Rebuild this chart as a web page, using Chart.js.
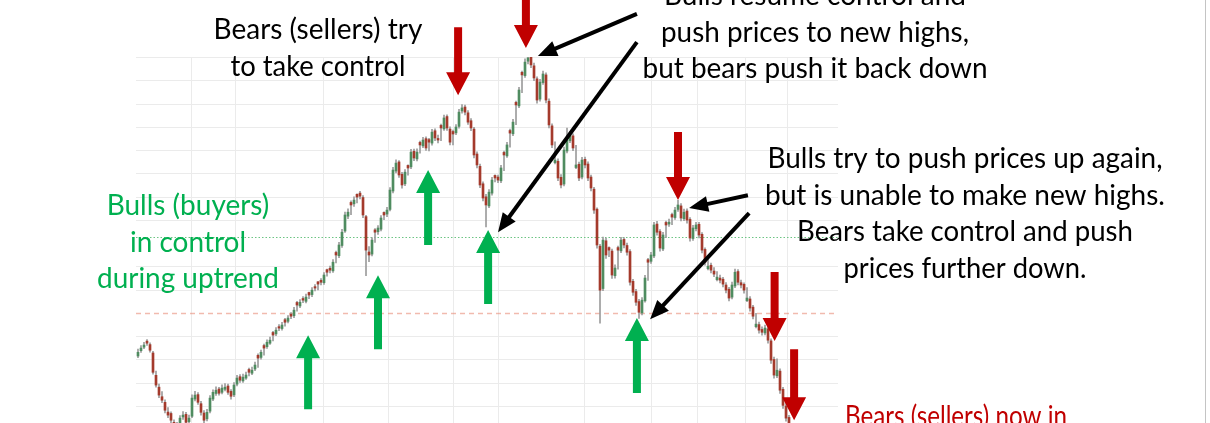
<!DOCTYPE html>
<html><head><meta charset="utf-8">
<script src="https://cdn.jsdelivr.net/npm/chart.js@4/dist/chart.umd.min.js"></script>
<style>
html,body{margin:0;padding:0;background:#fff;overflow:hidden;width:1210px;height:423px;}
#wrap{position:absolute;left:0;top:0;width:1210px;height:480px;}
canvas{display:block;}
</style></head><body>
<div id="wrap"><canvas id="c" width="1210" height="480"></canvas></div>
<script>
// ---- data (daily OHLC) ----
const opens = [71.5,73.8,75.3,77.9,76.4,72.8,63.2,58.1,54.0,51.6,47.4,46.8,43.0,40.2,42.5,45.3,46.4,43.3,45.6,53.0,
54.9,51.0,47.0,44.5,47.8,53.0,55.4,57.3,55.9,57.2,58.6,56.3,54.8,59.4,62.6,60.8,62.0,65.7,64.1,65.9,
71.8,70.9,76.0,75.5,77.0,81.6,81.0,84.1,83.3,87.1,86.4,89.5,88.8,94.5,93.0,96.2,95.0,98.8,97.9,101.3,
103.4,104.0,103.0,108.6,109.2,108.1,116.0,114.6,119.0,125.2,131.6,137.5,136.9,141.0,141.5,139.6,131.4,116.2,115.3,125.7,
124.9,126.0,133.2,132.5,134.5,142.4,151.0,154.9,149.6,145.5,153.4,152.8,159.5,156.2,163.3,161.8,164.9,164.5,163.0,168.3,
165.0,170.6,169.1,174.4,169.0,168.0,167.4,170.2,176.8,178.5,176.0,172.6,169.0,158.3,153.0,145.5,139.9,136.0,141.5,149.1,
148.4,146.8,159.0,157.5,168.4,167.0,180.5,179.0,193.4,192.0,198.2,199.9,196.2,190.6,181.9,189.0,192.3,181.0,170.4,154.6,
155.2,148.3,145.4,159.6,164.0,166.1,152.5,153.9,148.4,156.0,154.0,148.4,143.2,134.6,118.7,100.5,121.0,118.1,116.6,106.0,
118.1,116.7,121.6,119.0,116.4,103.6,99.2,94.9,90.0,95.2,112.9,112.2,114.5,128.2,125.0,117.5,128.9,128.2,132.3,131.0,
134.5,136.0,130.5,133.8,130.2,122.0,126.2,128.1,123.8,117.3,109.0,110.5,108.0,104.3,105.0,104.5,102.0,100.2,96.8,101.6,
107.8,103.0,102.3,95.3,96.0,92.5,84.1,85.0,82.9,81.4,83.2,78.0,70.0,63.0,65.0,57.2,50.0,45.1,37.8];
const highs = [74.5,76.0,77.4,78.6,77.2,73.5,65.0,59.4,56.2,52.7,49.3,47.5,44.1,43.0,45.9,47.6,47.3,46.1,54.8,56.3,
55.8,52.0,48.0,48.6,54.5,57.0,58.3,58.0,59.1,59.6,59.4,57.1,60.1,63.2,63.5,63.7,64.6,66.3,66.7,68.9,
72.4,74.0,76.6,78.5,79.6,82.1,83.7,85.0,86.0,87.7,88.9,90.2,92.4,95.0,95.8,97.0,98.1,99.0,100.9,102.2,
103.5,104.8,107.4,108.9,110.1,112.9,116.6,120.4,125.9,133.4,134.8,138.2,139.9,141.2,142.3,140.4,132.0,118.5,122.4,126.3,
127.6,131.9,133.5,135.4,143.9,152.6,155.8,155.5,150.4,151.6,153.7,160.3,160.4,160.5,163.9,165.5,165.7,165.0,168.9,169.1,
166.4,171.2,175.0,175.2,170.0,168.6,171.0,177.5,179.6,179.3,177.0,173.5,169.8,159.2,154.0,146.3,141.0,143.0,148.3,149.4,
149.2,153.4,159.6,163.3,169.0,173.2,181.1,187.0,194.0,199.2,201.8,201.0,197.4,191.5,190.4,194.0,193.2,182.0,171.3,163.5,
156.2,149.5,161.3,169.5,168.0,167.0,162.0,154.8,156.9,157.0,155.0,149.3,144.0,135.2,119.5,122.6,122.2,118.4,117.5,110.7,
118.7,122.5,122.4,120.0,117.2,104.5,100.1,95.9,96.6,106.2,113.5,116.1,129.0,129.4,125.8,124.7,129.5,130.3,132.9,135.4,
138.4,137.0,134.6,134.7,131.0,127.7,129.0,128.9,124.5,118.0,113.1,111.4,109.5,107.8,106.3,105.3,103.1,101.0,103.3,108.9,
108.6,104.1,103.0,100.9,97.0,93.3,89.8,86.1,84.0,84.8,84.0,78.9,71.0,70.3,66.0,58.0,51.0,46.0,38.6];
const lows = [70.8,73.0,74.6,76.0,73.1,63.7,58.1,53.6,51.4,47.0,45.0,42.5,39.4,39.1,41.6,44.2,42.0,42.4,45.0,52.2,
50.7,46.1,42.3,43.6,47.0,52.3,54.6,54.7,55.2,56.5,55.0,53.0,54.0,58.6,60.2,60.1,61.4,62.9,63.5,65.2,
66.6,70.1,71.9,74.8,76.5,78.0,80.2,82.4,82.6,84.3,85.7,87.5,88.0,90.8,92.3,94.4,94.3,96.1,97.0,99.5,
99.9,102.1,102.3,105.8,107.2,107.4,111.5,113.8,118.2,124.6,130.5,132.2,135.8,137.3,139.0,131.0,106.0,112.0,114.5,120.3,
123.8,125.3,130.1,131.4,133.8,141.6,150.2,148.2,143.6,144.7,149.2,152.0,155.4,155.3,158.7,161.0,159.8,159.6,162.1,164.0,
163.1,164.0,168.4,168.5,162.2,162.2,166.6,169.4,175.9,175.1,171.0,168.3,156.6,152.3,143.8,138.1,127.0,135.2,140.6,146.3,
146.0,146.0,151.2,156.8,161.2,166.2,170.9,178.2,184.7,191.2,197.0,195.4,189.8,180.2,181.0,188.2,180.3,169.5,161.0,154.0,
146.8,143.7,144.6,158.8,163.2,159.7,152.0,146.8,147.6,152.3,146.9,142.5,132.8,117.8,85.6,99.6,113.4,114.2,104.8,105.0,
108.8,115.9,118.0,114.8,101.9,97.5,93.2,87.6,89.2,94.6,104.0,111.3,113.8,123.4,116.6,116.8,122.4,127.2,127.9,130.2,
133.6,129.6,129.7,128.6,120.9,121.2,125.3,122.3,115.8,110.5,108.5,107.2,105.6,103.8,102.9,101.2,98.6,95.2,96.0,100.9,
102.0,100.8,98.5,94.8,90.8,87.4,83.6,81.3,80.5,80.6,77.0,68.3,62.0,62.2,55.4,49.0,43.5,36.2,29.5];
const closes = [73.1,74.9,76.2,77.0,74.0,64.5,59.0,54.7,52.5,48.2,46.1,43.9,40.5,41.8,44.8,46.1,43.0,44.8,53.4,54.7,
51.6,47.3,43.9,47.3,53.4,55.9,56.8,55.5,57.7,58.1,55.9,54.2,59.0,62.0,61.1,62.4,63.3,64.5,65.4,67.6,
70.6,73.1,74.9,77.4,78.3,80.5,82.6,83.5,84.8,86.0,87.8,88.6,91.2,93.4,94.6,95.5,96.8,97.7,99.8,100.7,
102.4,103.2,106.3,107.5,108.4,111.8,114.9,119.2,124.7,132.1,133.3,136.4,138.5,139.8,140.2,132.1,117.0,114.9,121.3,124.7,
126.5,130.8,132.1,134.2,142.8,151.4,154.4,149.3,145.0,150.5,152.3,159.1,156.6,159.1,162.2,164.3,160.9,163.4,167.7,165.2,
164.3,169.5,173.8,169.5,163.4,166.9,169.9,176.3,178.1,176.3,172.0,169.5,157.9,153.6,145.0,139.4,136.4,141.9,147.1,148.0,
147.1,152.3,157.9,162.2,167.3,172.0,179.4,185.8,192.3,197.8,199.6,196.6,191.0,181.5,189.2,192.7,181.5,170.8,162.2,155.7,
148.0,145.0,160.0,164.3,166.5,160.9,153.6,148.0,155.7,153.6,148.0,143.7,134.2,119.2,99.8,121.3,114.9,117.0,106.3,109.3,
117.0,121.3,119.2,116.1,103.2,98.9,94.6,90.3,95.5,105.0,111.8,114.9,127.8,124.7,117.9,123.5,127.8,129.0,131.2,134.2,
136.4,130.8,133.3,129.9,122.2,126.5,127.8,123.5,117.0,111.8,110.1,108.4,106.7,105.4,104.1,102.4,99.8,96.4,102.0,107.5,
103.2,102.0,99.8,96.4,92.1,88.6,85.2,82.6,81.7,83.5,78.3,69.7,63.3,65.4,56.8,50.3,44.8,37.5,31.0];
const days = closes.map((_, i) => i);

// ---- grid / reference levels ----
const priceGrid = [200,190,180,170,160,150,140,130,110,100,80,70,60,50,40,30,20];
const timeGrid = [17.67,32.33,61.67,83.33,105,120,148.67,171,186.33,202.33,216.33];
const resistanceLevel = 122.6;
const supportLevel = 90;

// ---- annotations (day index, price) ----
const sellArrows = [
  {day:106.7, price:183.6, len:68},
  {day:129.3, price:203.9, len:72},
  {day:180.0, price:138.5, len:68},
  {day:212.2, price:77.9, len:69},
  {day:218.7, price:43.9, len:71}
];
const buyArrows = [
  {day:56.7, price:80.4, len:74},
  {day:80.0, price:106.2, len:74},
  {day:96.7, price:151.4, len:75},
  {day:116.7, price:125.6, len:74},
  {day:166.3, price:87.8, len:75}
];
const pointerArrows = [
  {fromDay:166.3, fromPrice:218.5, toDay:133.3, toPrice:200.4},
  {fromDay:166.3, fromPrice:206.4, toDay:120.0, toPrice:124.7},
  {fromDay:203.3, fromPrice:140.6, toDay:183.7, toPrice:135.1},
  {fromDay:203.7, fromPrice:132.9, toDay:170.7, toPrice:87.3}
];
const labels = [
  {lines:["Bears (sellers) try","to take control"], widths:[210,175], x:318, y:39, color:'#000', align:'center'},
  {lines:["Bulls resume control and","push prices to new highs,","but bears push it back down"], widths:[320,308,345], x:815, y:5, color:'#000', align:'center'},
  {lines:["Bulls try to push prices up again,","but is unable to make new highs.","Bears take control and push","prices further down."], widths:[395,400,336,243], x:965, y:168, color:'#000', align:'center'},
  {lines:["Bulls (buyers)","in control","during uptrend"], widths:[165,116,182], x:188, y:215, color:'#00b050', align:'center'},
  {lines:["Bears (sellers) now in"], widths:[222], x:845, y:426, color:'#c00000', align:'left'}
];

const GREEN = '#4f8c60', RED = '#a43a2c';

const annot = {
  id: 'annot',
  beforeDatasetsDraw(chart) {
    const {ctx, chartArea: a, scales: {x, y}} = chart;
    ctx.save();
    ctx.strokeStyle = '#ebebeb'; ctx.lineWidth = 1;
    priceGrid.forEach(v => {
      const py = Math.round(y.getPixelForValue(v)) + 0.5;
      ctx.beginPath(); ctx.moveTo(a.left, py); ctx.lineTo(a.right, py); ctx.stroke();
    });
    timeGrid.forEach(v => {
      const px = Math.round(x.getPixelForValue(v)) + 0.5;
      ctx.beginPath(); ctx.moveTo(px, a.top); ctx.lineTo(px, a.bottom); ctx.stroke();
    });
    // resistance (green dotted)
    let py = Math.round(y.getPixelForValue(resistanceLevel)) + 0.5;
    ctx.strokeStyle = '#6cc483'; ctx.setLineDash([1.5,2]);
    ctx.beginPath(); ctx.moveTo(a.left, py); ctx.lineTo(a.right, py); ctx.stroke();
    // support (pink dashed)
    py = Math.round(y.getPixelForValue(supportLevel)) + 0.5;
    ctx.strokeStyle = 'rgba(232,140,120,0.6)'; ctx.lineWidth = 1.5; ctx.setLineDash([5,4]);
    ctx.beginPath(); ctx.moveTo(a.left, py); ctx.lineTo(a.right, py); ctx.stroke();
    ctx.restore();
  },
  afterDraw(chart) {
    const {ctx, scales: {x, y}} = chart;
    ctx.save();
    const block = (px, tipY, dir, len, color) => {
      // dir = 1: pointing down, -1: pointing up
      const hw = 12, hh = 23, sw = 4;
      const baseY = tipY - dir * hh, endY = tipY - dir * len;
      ctx.fillStyle = color;
      ctx.beginPath();
      ctx.moveTo(px, tipY);
      ctx.lineTo(px + hw, baseY);
      ctx.lineTo(px + sw, baseY);
      ctx.lineTo(px + sw, endY);
      ctx.lineTo(px - sw, endY);
      ctx.lineTo(px - sw, baseY);
      ctx.lineTo(px - hw, baseY);
      ctx.closePath();
      ctx.fill();
    };
    sellArrows.forEach(a => block(x.getPixelForValue(a.day), y.getPixelForValue(a.price), 1, a.len, '#c00000'));
    buyArrows.forEach(a => block(x.getPixelForValue(a.day), y.getPixelForValue(a.price), -1, a.len, '#00b050'));
    pointerArrows.forEach(p => {
      const x1 = x.getPixelForValue(p.fromDay), y1 = y.getPixelForValue(p.fromPrice);
      const x2 = x.getPixelForValue(p.toDay), y2 = y.getPixelForValue(p.toPrice);
      const ang = Math.atan2(y2 - y1, x2 - x1);
      const hl = 19, hw = 8;
      const bx = x2 - hl * Math.cos(ang), by = y2 - hl * Math.sin(ang);
      ctx.strokeStyle = '#000'; ctx.lineWidth = 4; ctx.lineCap = 'butt';
      ctx.beginPath(); ctx.moveTo(x1, y1); ctx.lineTo(bx + 2*Math.cos(ang), by + 2*Math.sin(ang)); ctx.stroke();
      ctx.fillStyle = '#000';
      ctx.beginPath();
      ctx.moveTo(x2, y2);
      ctx.lineTo(bx + hw * Math.sin(ang), by - hw * Math.cos(ang));
      ctx.lineTo(bx - hw * Math.sin(ang), by + hw * Math.cos(ang));
      ctx.closePath(); ctx.fill();
    });
    ctx.font = '28px Lato';
    ctx.textBaseline = 'alphabetic';
    labels.forEach(l => {
      ctx.fillStyle = l.color; ctx.textAlign = l.align;
      l.lines.forEach((t, i) => ctx.fillText(t, l.x, l.y + i * 36.6, l.widths[i]));
    });
    // slide border
    ctx.strokeStyle = '#c4c4c4'; ctx.lineWidth = 1;
    ctx.beginPath(); ctx.moveTo(1205.5, 0); ctx.lineTo(1205.5, 480); ctx.stroke();
    ctx.restore();
  }
};

new Chart(document.getElementById('c'), {
  type: 'bar',
  data: {
    labels: days,
    datasets: [
      {
        label: 'Body',
        data: days.map(i => ({x: i, y: [opens[i], closes[i]]})),
        backgroundColor: days.map(i => closes[i] >= opens[i] ? GREEN : RED),
        barThickness: 2, grouped: false, order: 0, borderWidth: 0
      },
      {
        label: 'Wick',
        data: days.map(i => ({x: i, y: [lows[i], highs[i]]})),
        backgroundColor: '#9c9c9c',
        barThickness: 1, grouped: false, order: 1, borderWidth: 0
      }
    ]
  },
  options: {
    responsive: false,
    animation: false,
    events: [],
    layout: {padding: {left: 136, right: 372, top: 57, bottom: 3}},
    plugins: {legend: {display: false}, tooltip: {enabled: false}},
    scales: {
      x: {type: 'linear', display: false, min: -0.667, max: 233.33, offset: false},
      y: {display: false, min: 19.5, max: 200}
    }
  },
  plugins: [annot]
});
</script>
</body></html>
